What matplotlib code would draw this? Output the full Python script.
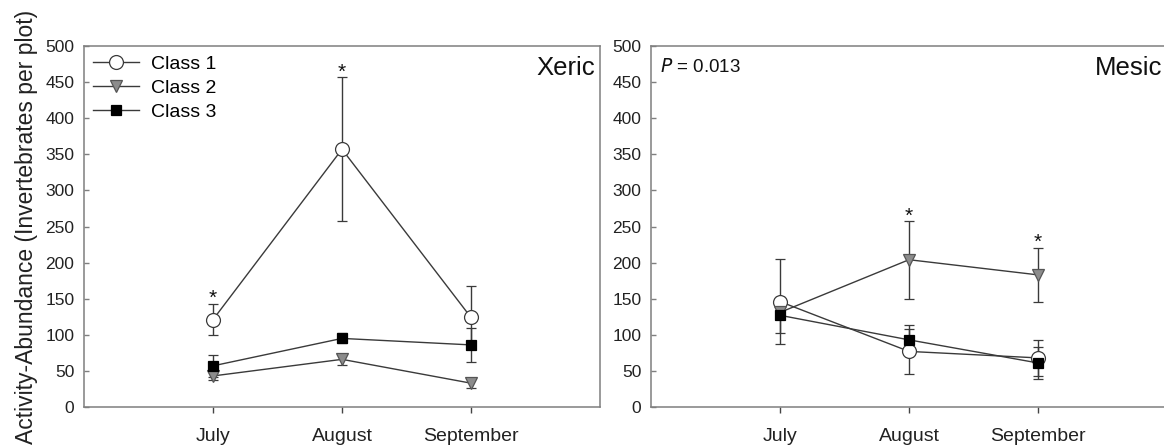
import numpy as np
import matplotlib
matplotlib.use('Agg')
import matplotlib.pyplot as plt

plt.rcParams['font.family'] = ['Liberation Sans', 'DejaVu Sans']

months = ['July', 'August', 'September']
x = np.array([1, 2, 3])

# Xeric panel (mean, error)
xeric_c1 = [121, 357, 124]
xeric_c1_err = [21, 100, 43]
xeric_c2 = [43, 66, 33]
xeric_c2_err = [5, 8, 7]
xeric_c3 = [57, 95, 86]
xeric_c3_err = [15, 7, 24]
xeric_stars = [(1, 143), (2, 456)]

# Mesic panel
mesic_c1 = [146, 77, 68]
mesic_c1_err = [59, 31, 25]
mesic_c2 = [131, 204, 183]
mesic_c2_err = [6, 54, 37]
mesic_c3 = [127, 93, 61]
mesic_c3_err = [25, 21, 22]
mesic_stars = [(2, 256), (3, 220)]

line_col = '#3a3a3a'
spine_col = '#7f7f7f'

styles = [
    dict(marker='o', mfc='white', mec=line_col, ms=10, label='Class 1'),
    dict(marker='v', mfc='#8c8c8c', mec='#555555', ms=8.5, label='Class 2'),
    dict(marker='s', mfc='black', mec='black', ms=7.5, label='Class 3'),
]

fig = plt.figure(figsize=(11.64, 4.48), dpi=100)
ax1 = fig.add_axes([84 / 1164, 41 / 448, 516 / 1164, 361 / 448])
ax2 = fig.add_axes([651 / 1164, 41 / 448, 516 / 1164, 361 / 448])


def draw_panel(ax, series, stars, name):
    for (vals, errs), st in zip(series, styles):
        ax.errorbar(x, vals, yerr=errs, color=line_col, lw=1, elinewidth=1,
                    capsize=3.6, capthick=1, mew=0.9, **st)
    for sx, sy in stars:
        ax.text(sx, sy, '*', ha='center', va='baseline', fontsize=15, color='#111111')
    ax.set_xlim(0, 4)
    ax.set_ylim(0, 500)
    ax.set_xticks(x)
    ax.set_xticklabels(months)
    ax.set_yticks(np.arange(0, 501, 50))
    ax.tick_params(axis='y', direction='in', length=3.5, width=1, color=spine_col,
                   labelsize=12.5, pad=7, labelcolor='#222222')
    ax.tick_params(axis='x', direction='out', length=4, width=1, color='#444444',
                   labelsize=14, pad=11, labelcolor='#222222')
    for s in ax.spines.values():
        s.set_color(spine_col)
        s.set_linewidth(1.1)
    ax.text(0.99, 0.92, name, transform=ax.transAxes, ha='right', va='baseline',
            fontsize=18.5, color='#111111')


draw_panel(ax1, [(xeric_c1, xeric_c1_err), (xeric_c2, xeric_c2_err), (xeric_c3, xeric_c3_err)],
           xeric_stars, 'Xeric')
draw_panel(ax2, [(mesic_c1, mesic_c1_err), (mesic_c2, mesic_c2_err), (mesic_c3, mesic_c3_err)],
           mesic_stars, 'Mesic')

ax1.set_ylabel('Activity-Abundance (Invertebrates per plot)', fontsize=16.5,
               color='#222222', labelpad=5)

handles, labels = ax1.get_legend_handles_labels()
handles = [h[0] for h in handles]
ax1.legend(handles, labels, loc='upper left', bbox_to_anchor=(0.017, 0.975),
           frameon=False, fontsize=14, handlelength=2.4, handletextpad=0.6,
           labelspacing=0.33, borderpad=0, borderaxespad=0)

ax2.text(0.0175, 0.928, r'$P$ = 0.013', transform=ax2.transAxes, ha='left',
         va='baseline', fontsize=13.5, color='#111111')

plt.savefig('out.png', dpi=100)
